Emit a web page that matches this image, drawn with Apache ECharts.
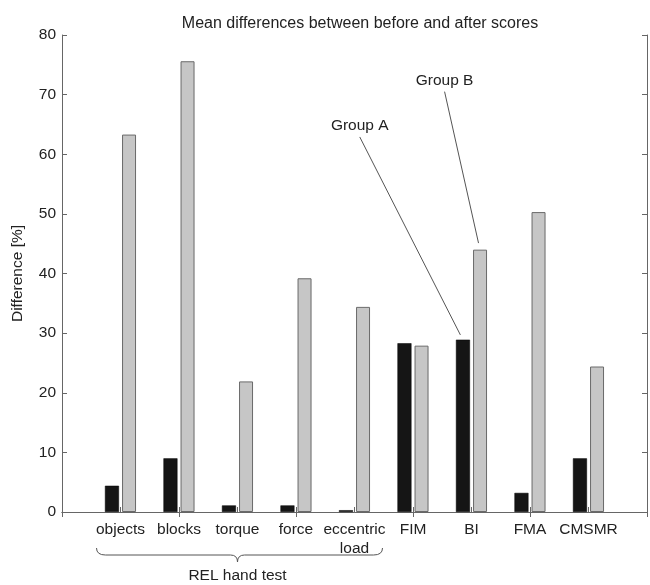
<!DOCTYPE html>
<html>
<head>
<meta charset="utf-8">
<script src="https://cdn.jsdelivr.net/npm/echarts@6/dist/echarts.min.js"></script>
<style>html,body{margin:0;padding:0;background:#fff}#c{width:650px;height:585px}</style>
</head>
<body>
<div id="c"></div>
<script>
var categories = ['objects', 'blocks', 'torque', 'force', 'eccentric\nload', 'FIM', 'BI', 'FMA', 'CMSMR'];
var groupA = [4.4, 9.0, 1.1, 1.1, 0.3, 28.3, 28.9, 3.2, 9.0];
var groupB = [63.3, 75.6, 21.9, 39.2, 34.4, 27.9, 44.0, 50.3, 24.4];
var yTicks = [0, 10, 20, 30, 40, 50, 60, 70, 80];
var leaderA = [[5.09, 62.9], [6.81, 29.7]];
var leaderB = [[6.54, 70.5], [7.12, 45.1]];

var axisCats = [''].concat(categories).concat(['']);
var dataA = [null].concat(groupA).concat([null]);
var dataB = [null].concat(groupB).concat([null]);
var FONT = 'Liberation Sans, Arial, sans-serif';
var FS = 15.5;
var axisLineStyle = {color: '#666', width: 1};

var chart = echarts.init(document.getElementById('c'), null, {renderer: 'canvas'});
var option = {
  animation: false,
  backgroundColor: '#fff',
  title: {
    text: 'Mean differences between before and after scores',
    left: 355, top: 11, textAlign: 'center',
    textStyle: {fontFamily: FONT, fontSize: 16, fontWeight: 'normal', color: '#222'}
  },
  grid: {left: 62, right: 1, top: 35, bottom: 73, containLabel: false},
  xAxis: [
    {
      type: 'category', data: axisCats, boundaryGap: false, position: 'bottom',
      axisLine: {show: true, lineStyle: axisLineStyle},
      axisTick: {show: true, inside: true, length: 5, lineStyle: axisLineStyle},
      axisLabel: {show: true, interval: 0, margin: 8, fontFamily: FONT, fontSize: FS, color: '#222', lineHeight: 19},
      splitLine: {show: false}
    },
    {
      type: 'category', data: axisCats, boundaryGap: false, position: 'top',
      axisLine: {show: true, lineStyle: axisLineStyle},
      axisTick: {show: true, inside: true, length: 5, lineStyle: axisLineStyle},
      axisLabel: {show: false}, splitLine: {show: false}
    },
    {
      type: 'value', min: 0, max: 10, show: false
    }
  ],
  yAxis: [
    {
      type: 'value', min: 0, max: 80, interval: 10, position: 'left',
      name: 'Difference [%]', nameLocation: 'middle', nameGap: 36,
      nameTextStyle: {fontFamily: FONT, fontSize: FS, color: '#222'},
      axisLine: {show: true, lineStyle: axisLineStyle},
      axisTick: {show: true, inside: true, length: 5, lineStyle: axisLineStyle},
      axisLabel: {show: true, margin: 6, fontFamily: FONT, fontSize: FS, color: '#222',
        formatter: function (v) { return yTicks.indexOf(v) >= 0 ? String(v) : ''; }},
      splitLine: {show: false}
    },
    {
      type: 'value', min: 0, max: 80, interval: 10, position: 'right',
      axisLine: {show: true, lineStyle: axisLineStyle},
      axisTick: {show: true, inside: true, length: 5, lineStyle: axisLineStyle},
      axisLabel: {show: false}, splitLine: {show: false}
    }
  ],
  series: [
    {
      name: 'Group A', type: 'bar', xAxisIndex: 0, yAxisIndex: 0,
      data: dataA, barWidth: 14, barGap: '22%',
      itemStyle: {color: '#151515', borderColor: '#000', borderWidth: 0.5}
    },
    {
      name: 'Group B', type: 'bar', xAxisIndex: 0, yAxisIndex: 0,
      data: dataB, barWidth: 14,
      itemStyle: {color: '#c6c6c6', borderColor: '#6a6a6a', borderWidth: 1}
    },
    {
      type: 'line', xAxisIndex: 2, yAxisIndex: 0, symbol: 'none', symbolSize: 0, showSymbol: true,
      lineStyle: {color: '#555', width: 1}, silent: true, z: 5,
      data: [
        {value: leaderA[0], symbol: 'circle', symbolSize: 0.01,
          label: {show: true, position: 'top', distance: 3, formatter: 'Group A', fontFamily: FONT, fontSize: FS, color: '#222'}},
        {value: leaderA[1]}
      ]
    },
    {
      type: 'line', xAxisIndex: 2, yAxisIndex: 0, symbol: 'none', symbolSize: 0, showSymbol: true,
      lineStyle: {color: '#555', width: 1}, silent: true, z: 5,
      data: [
        {value: leaderB[0], symbol: 'circle', symbolSize: 0.01,
          label: {show: true, position: 'top', distance: 3, formatter: 'Group B', fontFamily: FONT, fontSize: FS, color: '#222'}},
        {value: leaderB[1]}
      ]
    }
  ]
};
chart.setOption(option);

// brace under the REL hand test group
var pL = chart.convertToPixel({xAxisIndex: 0}, 1);
var pR = chart.convertToPixel({xAxisIndex: 0}, 5);
var mid = (pL + pR) / 2;
var L = mid - 141, R = mid + 145;
var yb = 555, yt = 548, yv = 562;
var st = {stroke: '#555', lineWidth: 1, fill: 'none'};
chart.setOption({
  graphic: [
    {type: 'bezierCurve', shape: {x1: L, y1: yt, x2: L + 9, y2: yb, cpx1: L, cpy1: yb}, style: st},
    {type: 'line', shape: {x1: L + 9, y1: yb, x2: mid - 7, y2: yb}, style: st},
    {type: 'bezierCurve', shape: {x1: mid - 7, y1: yb, x2: mid, y2: yv, cpx1: mid, cpy1: yb}, style: st},
    {type: 'bezierCurve', shape: {x1: mid, y1: yv, x2: mid + 7, y2: yb, cpx1: mid, cpy1: yb}, style: st},
    {type: 'line', shape: {x1: mid + 7, y1: yb, x2: R - 9, y2: yb}, style: st},
    {type: 'bezierCurve', shape: {x1: R - 9, y1: yb, x2: R, y2: yt, cpx1: R, cpy1: yb}, style: st},
    {type: 'text', x: mid, y: 576, style: {text: 'REL hand test', fontFamily: FONT, fontSize: FS, fill: '#222', align: 'center', verticalAlign: 'middle'}}
  ]
});
</script>
</body>
</html>
